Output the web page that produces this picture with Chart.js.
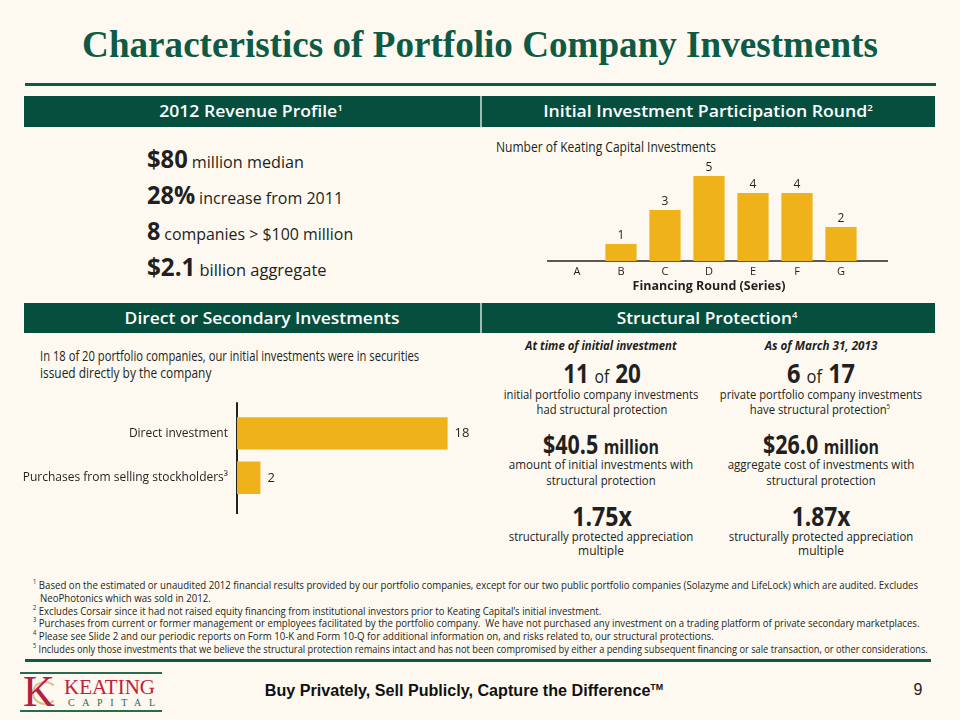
<!DOCTYPE html>
<html>
<head>
<meta charset="utf-8">
<script src="https://cdn.jsdelivr.net/npm/chart.js@4.4.1/dist/chart.umd.min.js"></script>
<style>
  html, body { margin:0; padding:0; }
  body { width:960px; height:720px; background:#fdf9f0; position:relative; overflow:hidden; font-family:"Open Sans", sans-serif; color:#231f20; }
  .t { position:absolute; white-space:nowrap; line-height:1.15; transform-origin:0 0; }
  .t sup { font-size:0.55em; line-height:0; vertical-align:0.7em; }
  .title { font-family:"Liberation Serif", serif; font-weight:bold; font-size:38px; color:#0d5a45; }
  .bar { position:absolute; left:24px; width:911px; background:#064f3f; }
  .bar .div { position:absolute; left:456px; top:0; bottom:0; width:2px; background:#9fbcb2; }
  .hd { color:#fff; font-weight:600; font-size:17px; }
  .big { font-weight:bold; font-size:25px; }
  .med { font-size:17px; }
  .p { font-size:14px; }
  .sub { font-size:13px; font-weight:bold; font-style:italic; }
  .num { font-size:27px; font-weight:bold; line-height:1; }
  .num small { font-size:19px; font-weight:normal; }
  .num .mil { font-size:20px; font-weight:bold; }
  .d { font-size:12.5px; line-height:1; }
  .fn { font-size:11px; line-height:1; }
  .fn sup { font-size:0.6em; }
  .rule { position:absolute; left:25px; width:911px; height:3px; background:#0d5a45; }
  .foot { font-family:"Liberation Sans", sans-serif; font-weight:bold; font-size:16px; color:#111; }
  .pg { font-family:"Liberation Sans", sans-serif; font-size:16px; color:#222; }
  canvas { position:absolute; }
  .logo { position:absolute; left:20px; top:672px; width:142px; height:40px; }
  .logo .ln { position:absolute; left:0; width:142px; height:2px; background:#2a6b4f; }
  .logo .lt { position:absolute; white-space:nowrap; font-family:"Liberation Serif", serif; }
  .logo .fl { position:absolute; border:2px solid #d6c48f; border-right-color:transparent; border-radius:50%; }
</style>
</head>
<body>

<div class="t title" data-x="480" data-y="45" data-a="c" data-w="796">Characteristics of Portfolio Company Investments</div>
<div class="rule" style="top:83px"></div>

<div class="bar" style="top:96px;height:31px"><div class="div"></div></div>
<div class="t hd" data-x="251" data-y="111" data-a="c" data-w="184">2012 Revenue Profile<sup>1</sup></div>
<div class="t hd" data-x="708" data-y="111" data-a="c" data-w="330">Initial Investment Participation Round<sup>2</sup></div>

<div class="t" data-x="147" data-y="158" data-w="157"><span class="big">$80</span> <span class="med">million median</span></div>
<div class="t" data-x="147" data-y="194" data-w="196"><span class="big">28%</span> <span class="med">increase from 2011</span></div>
<div class="t" data-x="147" data-y="230" data-w="206"><span class="big">8</span> <span class="med">companies &gt; $100 million</span></div>
<div class="t" data-x="147" data-y="266" data-w="180"><span class="big">$2.1</span> <span class="med">billion aggregate</span></div>

<div class="t p" data-x="496" data-y="147" data-w="220">Number of Keating Capital Investments</div>
<canvas id="roundChart" width="380" height="150" style="left:530px;top:150px"></canvas>

<div class="bar" style="top:303px;height:30px"><div class="div"></div></div>
<div class="t hd" data-x="262" data-y="318" data-a="c" data-w="275">Direct or Secondary Investments</div>
<div class="t hd" data-x="707" data-y="318" data-a="c" data-w="181">Structural Protection<sup>4</sup></div>

<div class="t p" data-x="40" data-y="356" data-w="379">In 18 of 20 portfolio companies, our initial investments were in securities</div>
<div class="t p" data-x="40" data-y="373" data-w="171">issued directly by the company</div>
<canvas id="directChart" width="490" height="125" style="left:0px;top:395px"></canvas>

<div class="t sub" data-x="601" data-y="345" data-a="c" data-w="151">At time of initial investment</div>
<div class="t sub" data-x="821" data-y="345" data-a="c" data-w="113">As of March 31, 2013</div>

<div class="t num" data-x="602" data-y="372" data-a="c" data-w="78">11 <small>of</small> 20</div>
<div class="t d" data-x="601" data-y="395" data-a="c" data-w="195">initial portfolio company investments</div>
<div class="t d" data-x="602" data-y="410" data-a="c" data-w="131">had structural protection</div>
<div class="t num" data-x="601" data-y="443" data-a="c" data-w="116">$40.5 <span class="mil">million</span></div>
<div class="t d" data-x="601" data-y="465" data-a="c" data-w="184">amount of initial investments with</div>
<div class="t d" data-x="601" data-y="481" data-a="c" data-w="109">structural protection</div>
<div class="t num" data-x="602" data-y="515" data-a="c" data-w="60">1.75x</div>
<div class="t d" data-x="601" data-y="537" data-a="c" data-w="185">structurally protected appreciation</div>
<div class="t d" data-x="601" data-y="551" data-a="c" data-w="46">multiple</div>

<div class="t num" data-x="821" data-y="372" data-a="c" data-w="68">6 <small>of</small> 17</div>
<div class="t d" data-x="821" data-y="395" data-a="c" data-w="202">private portfolio company investments</div>
<div class="t d" data-x="820" data-y="410" data-a="c" data-w="140">have structural protection<sup>5</sup></div>
<div class="t num" data-x="821" data-y="443" data-a="c" data-w="116">$26.0 <span class="mil">million</span></div>
<div class="t d" data-x="821" data-y="465" data-a="c" data-w="187">aggregate cost of investments with</div>
<div class="t d" data-x="821" data-y="481" data-a="c" data-w="109">structural protection</div>
<div class="t num" data-x="821" data-y="515" data-a="c" data-w="59">1.87x</div>
<div class="t d" data-x="821" data-y="537" data-a="c" data-w="185">structurally protected appreciation</div>
<div class="t d" data-x="821" data-y="551" data-a="c" data-w="46">multiple</div>

<div class="t fn" id="fn1" data-x="33" data-y="584" data-w="885"><sup>1</sup> Based on the estimated or unaudited 2012 financial results provided by our portfolio companies, except for our two public portfolio companies (Solazyme and LifeLock) which are audited. Excludes</div>
<div class="t fn" data-x="40" data-y="597" data-ref="fn1">NeoPhotonics which was sold in 2012.</div>
<div class="t fn" data-x="33" data-y="610" data-w="568"><sup>2</sup> Excludes Corsair since it had not raised equity financing from institutional investors prior to Keating Capital’s initial investment.</div>
<div class="t fn" data-x="33" data-y="622" data-w="886"><sup>3</sup> Purchases from current or former management or employees facilitated by the portfolio company.&nbsp; We have not purchased any investment on a trading platform of private secondary marketplaces.</div>
<div class="t fn" data-x="33" data-y="635" data-w="681"><sup>4</sup> Please see Slide 2 and our periodic reports on Form 10-K and Form 10-Q for additional information on, and risks related to, our structural protections.</div>
<div class="t fn" data-x="33" data-y="648" data-w="895"><sup>5</sup> Includes only those investments that we believe the structural protection remains intact and has not been compromised by either a pending subsequent financing or sale transaction, or other considerations.</div>
<div class="rule" style="top:659px;width:906px"></div>

<div class="logo">
  <div class="ln" style="top:0"></div>
  <div class="ln" style="top:38px"></div>
  <div class="fl" style="left:12px;top:9px;width:22px;height:20px"></div>
  <div class="lt" style="left:3px;top:3px;font-size:44px;line-height:34px;color:#b5213d">K</div>
  <div class="lt" style="left:44px;top:6px;font-size:21px;line-height:18px;color:#c1203c">KEATING</div>
  <div class="lt" style="left:48px;top:26px;font-size:10px;line-height:10px;color:#2a6b4f;letter-spacing:7.6px">CAPITAL</div>
</div>

<div class="t foot" data-x="464" data-y="691" data-a="c" data-w="398">Buy Privately, Sell Publicly, Capture the Difference<sup>TM</sup></div>
<div class="t pg" data-x="918" data-y="690" data-a="c">9</div>

<script>
// chart data
const rounds = ['A', 'B', 'C', 'D', 'E', 'F', 'G'];
const roundCounts = [0, 1, 3, 5, 4, 4, 2];
const roundTicks = [0, 6];

const investTypes = ['Direct investment', 'Purchases from selling stockholders³'];
const investCounts = [18, 2];
const investTicks = [0, 20];

const GOLD = '#efb21b';
const INK = '#231f20';

// place the text blocks and squeeze them to the widths of the slide
function placeText(){
  const scales = {};
  document.querySelectorAll('.t[data-x]').forEach(el => {
    el.style.left = el.dataset.x + 'px';
    el.style.top = el.dataset.y + 'px';
    const a = el.dataset.a;
    const tx = a === 'c' ? '-50%' : (a === 'r' ? '-100%' : '0');
    let s = 1;
    if (el.dataset.w) {
      const w = el.scrollWidth;
      if (w > 0) s = Number(el.dataset.w) / w;
    } else if (el.dataset.ref && scales[el.dataset.ref]) {
      s = scales[el.dataset.ref];
    }
    if (el.id) scales[el.id] = s;
    el.style.transform = `scaleX(${s}) translate(${tx}, -50%)`;
  });
}

// value labels next to / above the bars
const valueLabels = {
  id: 'valueLabels',
  afterDatasetsDraw(chart, args, opts){
    const ctx = chart.ctx;
    const meta = chart.getDatasetMeta(0);
    ctx.save();
    ctx.fillStyle = INK;
    ctx.font = opts.font;
    meta.data.forEach((bar, i) => {
      const v = chart.data.datasets[0].data[i];
      if (!v) return;
      if (opts.horizontal) {
        ctx.textAlign = 'left'; ctx.textBaseline = 'middle';
        ctx.fillText(String(v), bar.x + 7, bar.y);
      } else {
        ctx.textAlign = 'center'; ctx.textBaseline = 'middle';
        ctx.fillText(String(v), bar.x, bar.y - 8);
      }
    });
    ctx.restore();
  }
};

// axis line that runs past the plot area, as on the slide
const axisLine = {
  id: 'axisLine',
  beforeDatasetsDraw(chart, args, opts){
    const ctx = chart.ctx;
    const a = chart.chartArea;
    ctx.save();
    ctx.strokeStyle = '#222';
    ctx.lineWidth = opts.width;
    ctx.beginPath();
    if (opts.horizontal) {
      const x = chart.scales.x.getPixelForValue(0);
      ctx.moveTo(x, a.top - opts.before);
      ctx.lineTo(x, a.bottom + opts.after);
    } else {
      const y = chart.scales.y.getPixelForValue(0);
      ctx.moveTo(a.left - opts.before, y);
      ctx.lineTo(a.right + opts.after, y);
    }
    ctx.stroke();
    ctx.restore();
  }
};

function renderRoundChart(){
  const ctx = document.getElementById('roundChart').getContext('2d');
  new Chart(ctx, {
    type: 'bar',
    data: { labels: rounds, datasets: [{ data: roundCounts, backgroundColor: GOLD, categoryPercentage: 1, barPercentage: 0.71 }] },
    plugins: [valueLabels, axisLine],
    options: {
      responsive: false, animation: false,
      layout: { padding: { left: 25, right: 47, top: 9, bottom: 0 } },
      plugins: {
        legend: { display: false }, tooltip: { enabled: false },
        valueLabels: { font: '12px "Open Sans"' },
        axisLine: { width: 1.5, before: 8, after: 25 }
      },
      scales: {
        x: {
          grid: { display: false, drawTicks: false }, border: { display: false },
          ticks: { color: INK, font: { family: 'Open Sans', size: 11 }, padding: 4 },
          title: { display: true, text: 'Financing Round (Series)', color: INK, font: { family: 'Open Sans', size: 12.5, weight: 'bold' }, padding: { top: 0, bottom: 6 } },
          afterFit: s => { s.height = 39; }
        },
        y: { display: false, min: roundTicks[0], max: roundTicks[1] }
      }
    }
  });
}

function renderDirectChart(){
  const ctx = document.getElementById('directChart').getContext('2d');
  new Chart(ctx, {
    type: 'bar',
    data: { labels: investTypes, datasets: [{ data: investCounts, backgroundColor: GOLD, categoryPercentage: 1, barPercentage: 0.73 }] },
    plugins: [valueLabels, axisLine],
    options: {
      indexAxis: 'y',
      responsive: false, animation: false,
      layout: { padding: { left: 0, right: 19, top: 15, bottom: 20 } },
      plugins: {
        legend: { display: false }, tooltip: { enabled: false },
        valueLabels: { font: '13px "Open Sans"', horizontal: true },
        axisLine: { width: 2, before: 9, after: 14, horizontal: true }
      },
      scales: {
        x: { display: false, min: investTicks[0], max: investTicks[1] },
        y: {
          grid: { display: false, drawTicks: false }, border: { display: false },
          ticks: { color: INK, font: { family: 'Open Sans', size: 12 }, padding: 9 },
          afterFit: s => { s.width = 237; }
        }
      }
    }
  });
}

placeText();
renderRoundChart();
renderDirectChart();
if (document.fonts && document.fonts.ready) document.fonts.ready.then(placeText);
</script>
</body>
</html>
